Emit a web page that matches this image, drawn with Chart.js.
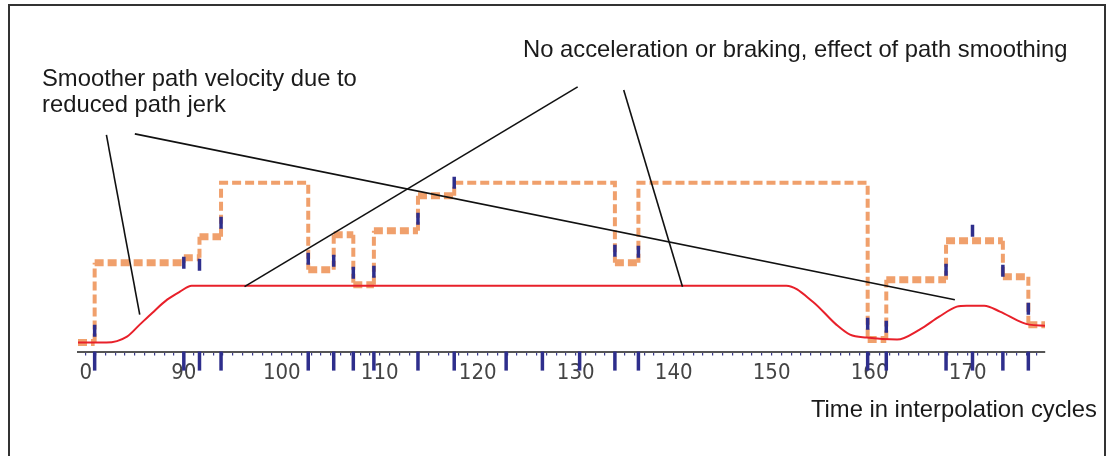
<!DOCTYPE html>
<html>
<head>
<meta charset="utf-8">
<script src="https://cdn.jsdelivr.net/npm/chart.js@4.4.1/dist/chart.umd.min.js"></script>
<style>
  body { margin: 0; background: #fff; }
  #wrap { position: relative; width: 1111px; height: 456px; overflow: hidden; }
  #frame { position: absolute; left: 8px; top: 4px; width: 1098px; height: 480px; box-sizing: border-box; border: 2px solid #333; }
  canvas { position: absolute; left: 0; top: 0; }
  .note { position: absolute; font-family: "Liberation Sans", Arial, sans-serif; font-size: 23.8px; line-height: 26px; color: #1a1a1a; white-space: nowrap; }
</style>
</head>
<body>
<div id="wrap">
  <div id="frame"></div>
  <canvas id="pathChart" width="1111" height="456"></canvas>
  <div class="note" style="left:42px; top:65px;">Smoother path velocity due to<br>reduced path jerk</div>
  <div class="note" style="left:523px; top:36px;">No acceleration or braking, effect of path smoothing</div>
  <div class="note" style="right:14px; top:396px;">Time in interpolation cycles</div>
</div>
<script>
// axis labels (interpolation cycles)
const tickValues = [80, 90, 100, 110, 120, 130, 140, 150, 160, 170];
const tickLabels = ['0', '90', '100', '110', '120', '130', '140', '150', '160', '170'];

// programmed velocity (orange, stepped)
const stepTimes = [79.2, 80.9, 90.0, 91.6, 93.8, 102.7, 105.3, 107.3, 109.4, 113.9, 117.6, 134.0, 136.4, 159.8, 161.7, 167.8, 173.6, 176.2, 177.9];
const stepValues = [0.9, 8.9, 9.4, 11.5, 16.9, 8.2, 11.7, 6.7, 12.1, 15.6, 16.9, 8.9, 16.9, 1.2, 7.2, 11.1, 7.5, 2.7, 2.7];

// resulting path velocity (red)
const pathTime = [79.2, 82.1, 84.2, 85.5, 86.8, 88.3, 89.6, 90.8, 151.5, 154.2, 156.6, 158.0, 159.7, 162.8, 165.1, 167.1, 168.9, 169.9, 171.7, 173.3, 175.6, 176.3, 177.9];
const pathVelocity = [0.9, 0.9, 1.5, 2.7, 3.9, 5.2, 6.0, 6.6, 6.6, 5.0, 2.7, 1.7, 1.4, 1.2, 2.2, 3.5, 4.5, 4.6, 4.6, 4.0, 2.9, 2.7, 2.6];

// block change events (blue ticks under the axis)
const eventTimes = [80.9, 90.0, 91.6, 93.8, 102.7, 105.3, 107.3, 109.4, 113.9, 117.6, 122.9, 126.6, 130.4, 134.0, 136.4, 159.8, 161.7, 167.8, 170.5, 173.6, 176.2];

// blue marks on the programmed velocity
const markTimes = [80.9, 90.0, 91.6, 93.8, 102.7, 105.3, 107.3, 109.4, 113.9, 117.6, 134.0, 136.4, 159.8, 161.7, 167.8, 170.5, 173.6, 176.2];
const markValues = [2.1, 8.9, 8.7, 12.9, 9.3, 9.1, 7.9, 8.0, 13.3, 16.9, 10.1, 10.0, 2.8, 2.5, 8.2, 12.1, 8.1, 4.3];

// annotation leader lines (x in cycles, y in velocity units)
const jerkLeaderA = [{ x: 82.1, y: 21.7 }, { x: 85.5, y: 3.7 }];
const jerkLeaderB = [{ x: 85.0, y: 21.8 }, { x: 168.7, y: 5.2 }];
const smoothLeaderA = [{ x: 130.2, y: 26.5 }, { x: 96.2, y: 6.5 }];
const smoothLeaderB = [{ x: 134.9, y: 26.2 }, { x: 140.9, y: 6.5 }];

const stepPoints = [];
stepTimes.forEach((t, i) => {
  if (i > 0) stepPoints.push({ x: t, y: stepValues[i - 1] });
  stepPoints.push({ x: t, y: stepValues[i] });
});

const leader = (data) => ({
  data: data,
  showLine: true,
  borderColor: '#111',
  borderWidth: 1.6,
  pointRadius: 0,
});

const eventTicks = {
  id: 'eventTicks',
  afterDatasetsDraw(chart) {
    const x = chart.scales.x;
    const bottom = chart.chartArea.bottom;
    const ctx = chart.ctx;
    ctx.save();
    ctx.strokeStyle = '#2e2e8c';
    ctx.lineWidth = 3.5;
    eventTimes.forEach(t => {
      const px = x.getPixelForValue(t);
      ctx.beginPath();
      ctx.moveTo(px, bottom);
      ctx.lineTo(px, bottom + 19);
      ctx.stroke();
    });
    ctx.restore();
  }
};

new Chart(document.getElementById('pathChart'), {
  type: 'scatter',
  data: {
    datasets: [
      leader(jerkLeaderA),
      leader(jerkLeaderB),
      leader(smoothLeaderA),
      leader(smoothLeaderB),
      {
        data: markTimes.map((t, i) => ({ x: t, y: markValues[i] })),
        pointStyle: 'line',
        rotation: 90,
        pointRadius: 6,
        pointBorderWidth: 3.5,
        pointBorderColor: '#2e2e8c',
        showLine: false,
      },
      {
        data: pathTime.map((t, i) => ({ x: t, y: pathVelocity[i] })),
        showLine: true,
        borderColor: '#e8202a',
        borderWidth: 2,
        pointRadius: 0,
        cubicInterpolationMode: 'monotone',
      },
      {
        data: stepPoints,
        showLine: true,
        borderColor: '#f0a06c',
        borderDash: [9, 4],
        pointRadius: 0,
        segment: {
          borderWidth: ctx => {
            if (ctx.p0.parsed.x === ctx.p1.parsed.x) return 4;
            return ctx.p0.parsed.y > 16 ? 4 : 7;
          }
        },
      },
    ]
  },
  options: {
    responsive: false,
    animation: false,
    events: [],
    layout: { padding: { left: 78, right: 66, top: 20, bottom: 66 } },
    plugins: { legend: { display: false }, tooltip: { enabled: false } },
    scales: {
      x: {
        type: 'linear',
        min: 79.2,
        max: 177.9,
        afterBuildTicks: scale => {
          const ticks = [];
          for (let v = 80; v <= 177; v++) ticks.push({ value: v });
          scale.ticks = ticks;
        },
        grid: { drawOnChartArea: false, color: '#3a3a8f', lineWidth: 1.2, tickLength: 4 },
        border: { display: true, color: '#555', width: 2 },
        ticks: {
          autoSkip: false,
          maxRotation: 0,
          padding: 4,
          color: '#444',
          font: { family: '"Liberation Sans Narrow", "DejaVu Sans Condensed", sans-serif', size: 22 },
          callback: v => {
            const i = tickValues.indexOf(v);
            return i >= 0 ? tickLabels[i] : '';
          }
        }
      },
      y: { display: false, min: 0, max: 33.2 }
    }
  },
  plugins: [eventTicks]
});
</script>
</body>
</html>
